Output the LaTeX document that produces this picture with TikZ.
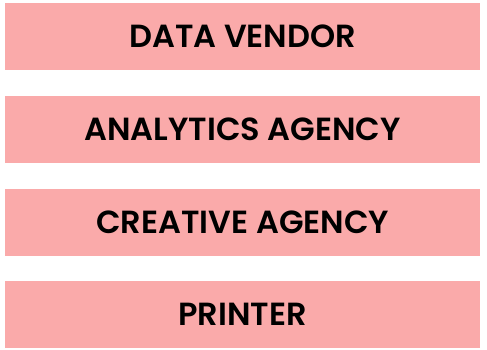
\documentclass[tikz,border=0pt]{standalone}
\usepackage{fontspec}
\setmainfont{Poppins}[BoldFont={* SemiBold}]
\definecolor{barpink}{RGB}{250,170,170}
\begin{document}
\begin{tikzpicture}[x=1pt,y=-1pt,
  bar/.style={fill=barpink, draw=none, minimum width=475pt, minimum height=67pt,
    inner sep=0pt, font=\fontsize{32}{36}\selectfont\bfseries, text=black, anchor=north west}]
\useasboundingbox (0,0) rectangle (487,349);
\node[bar] (vendor)    at (5,3)     {DATA VENDOR};
\node[bar] (analytics) at (5,95.7)  {ANALYTICS AGENCY};
\node[bar] (creative)  at (5,188.3) {CREATIVE AGENCY};
\node[bar] (printer)   at (5,281)   {PRINTER};
\end{tikzpicture}
\end{document}
